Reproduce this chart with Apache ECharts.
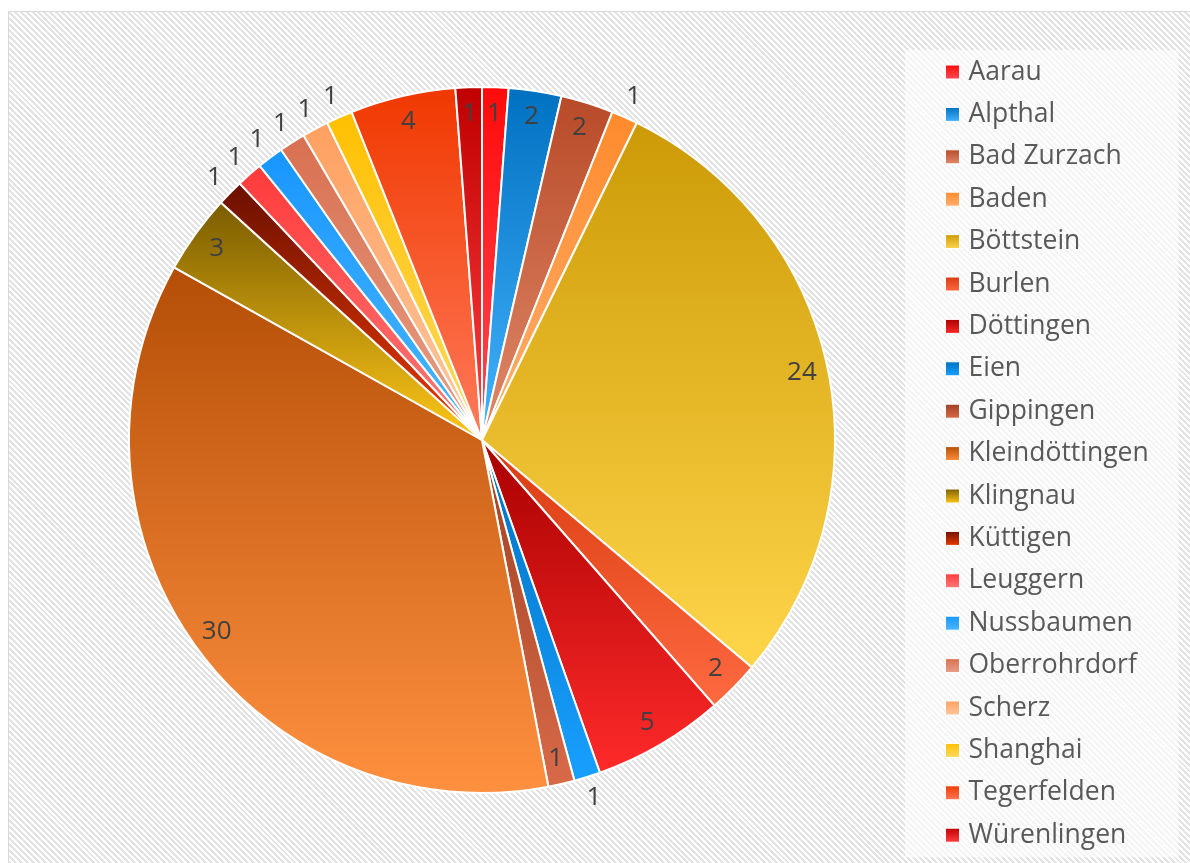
<!DOCTYPE html>
<html>
<head>
<meta charset="utf-8">
<script src="https://cdn.jsdelivr.net/npm/echarts@6/dist/echarts.min.js"></script>
<style>
  html, body { margin: 0; padding: 0; width: 1190px; height: 863px; background: #ffffff; overflow: hidden; }
  #frame {
    position: absolute; left: 8px; top: 11px; width: 1190px; height: 860px;
    border: 1px solid #d9d9d9;
    background: repeating-linear-gradient(45deg, #ffffff 0px, #ffffff 2.1px, #e3e3e3 2.1px, #e3e3e3 4.2px);
  }
  #chart { position: absolute; left: 0; top: 0; width: 1190px; height: 863px; }
</style>
</head>
<body>
<div id="frame"></div>
<div id="chart"></div>
<script>
const names = ['Aarau', 'Alpthal', 'Bad Zurzach', 'Baden', 'Böttstein', 'Burlen', 'Döttingen', 'Eien',
  'Gippingen', 'Kleindöttingen', 'Klingnau', 'Küttigen', 'Leuggern', 'Nussbaumen', 'Oberrohrdorf',
  'Scherz', 'Shanghai', 'Tegerfelden', 'Würenlingen'];
const values = [1, 2, 2, 1, 24, 2, 5, 1, 1, 30, 3, 1, 1, 1, 1, 1, 1, 4, 1];
const colorTop = ['#ff0a0a', '#0070c0', '#b84a28', '#ff8a2c', '#cc9a06', '#d83a10', '#a80000', '#0070c0',
  '#a04020', '#b44e06', '#7a5c00', '#6a1000', '#ff3a3a', '#1896ff', '#d87050',
  '#ffa060', '#ffc000', '#f03800', '#c00000'];
const colorBottom = ['#ff4a55', '#44b4ff', '#e08a6a', '#ffb070', '#ffd54a', '#ff6a40', '#ff2a2a', '#18a0ff',
  '#d86a48', '#ff9040', '#ffc818', '#f03a00', '#ff7a7a', '#4ab8ff', '#e8a088',
  '#ffc8a0', '#ffda60', '#ff7a5a', '#ff4040'];
const outsideLabelNames = ['Baden', 'Eien', 'Küttigen', 'Leuggern', 'Nussbaumen', 'Oberrohrdorf', 'Scherz', 'Shanghai'];

const FONT = 'Open Sans';
const CENTER = [482, 440];
const R = 353;

const chart = echarts.init(document.getElementById('chart'), null, { renderer: 'canvas' });

const mainData = names.map((n, i) => ({
  name: n,
  value: values[i],
  itemStyle: {
    color: new echarts.graphic.LinearGradient(0, 0, 0, 1, [
      { offset: 0, color: colorTop[i] },
      { offset: 1, color: colorBottom[i] }
    ])
  }
}));

function labelSeries(radius, showFn) {
  return {
    type: 'pie',
    center: CENTER,
    radius: radius,
    startAngle: 90,
    clockwise: true,
    silent: true,
    legendHoverLink: false,
    avoidLabelOverlap: false,
    itemStyle: { color: 'rgba(0,0,0,0)', borderWidth: 0 },
    label: {
      position: 'inside', formatter: '{c}', color: '#404040',
      fontSize: 26, fontFamily: FONT
    },
    labelLine: { show: false },
    emphasis: { disabled: true },
    data: names.map((n, i) => ({
      name: n, value: values[i], label: { show: showFn(n) }
    }))
  };
}

chart.setOption({
  animation: false,
  backgroundColor: 'transparent',
  legend: {
    orient: 'vertical',
    left: 905,
    top: 50,
    padding: [8, 30, 8, 40],
    backgroundColor: 'rgba(255,255,255,0.6)',
    icon: 'rect',
    itemWidth: 14,
    itemHeight: 14,
    itemGap: 14.4,
    itemStyle: { borderWidth: 1, borderColor: '#ffffff' },
    textStyle: { fontSize: 26.5, color: '#595959', fontFamily: FONT, lineHeight: 28, padding: [0, 0, 0, 4] },
    data: names
  },
  series: [
    {
      type: 'pie',
      center: CENTER,
      radius: R,
      startAngle: 90,
      clockwise: true,
      avoidLabelOverlap: false,
      itemStyle: { borderColor: '#ffffff', borderWidth: 2 },
      label: { show: false },
      labelLine: { show: false },
      data: mainData
    },
    labelSeries([310, 338], n => !outsideLabelNames.includes(n)),
    labelSeries([360, 384], n => outsideLabelNames.includes(n))
  ]
});
</script>
</body>
</html>
